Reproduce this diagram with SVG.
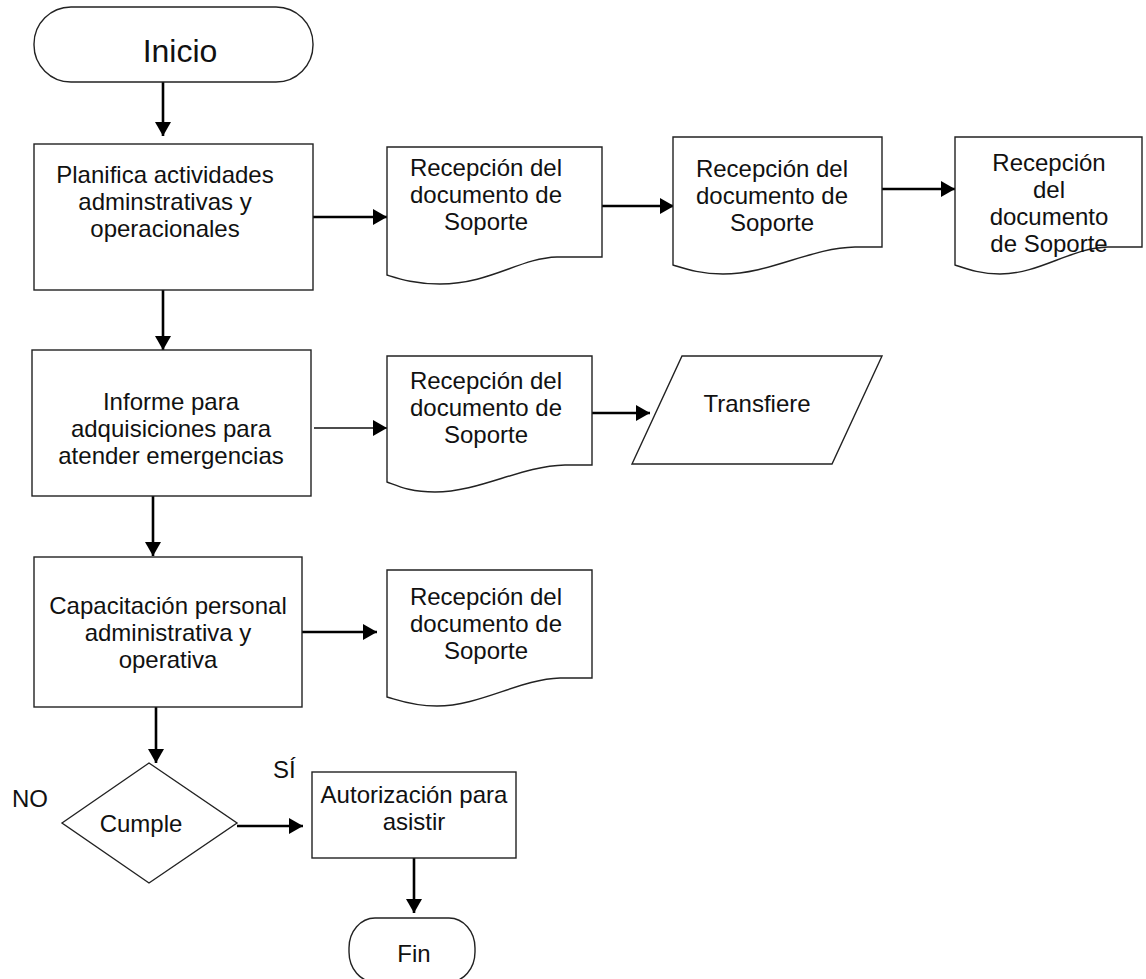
<svg xmlns="http://www.w3.org/2000/svg" width="1146" height="979" viewBox="0 0 1146 979">
<style>
.s{fill:#fff;stroke:#222;stroke-width:1.4}
.t{font-family:"Liberation Sans",Arial,sans-serif;font-size:24px;fill:#111;text-anchor:middle}
.l{font-family:"Liberation Sans",Arial,sans-serif;font-size:24px;fill:#111}
.c{fill:none;stroke:#000;stroke-width:2.6}
.c2{fill:none;stroke:#111;stroke-width:1.6}
</style>
<defs>
<marker id="ah" markerUnits="userSpaceOnUse" viewBox="0 0 14 16" refX="14" refY="8" markerWidth="14" markerHeight="16" orient="auto">
<path d="M0,0 L14,8 L0,16 Z" fill="#000"/>
</marker>
</defs>
<rect width="1146" height="979" fill="#fff"/>
<g id="connectors">
<line class="c" x1="163" y1="82" x2="163" y2="136" marker-end="url(#ah)"/>
<line class="c" x1="313" y1="217" x2="387" y2="217" marker-end="url(#ah)"/>
<line class="c" x1="602" y1="206" x2="674" y2="206" marker-end="url(#ah)"/>
<line class="c" x1="882" y1="189" x2="955" y2="189" marker-end="url(#ah)"/>
<line class="c" x1="163" y1="290" x2="163" y2="350" marker-end="url(#ah)"/>
<line class="c2" x1="314" y1="428" x2="387" y2="428" marker-end="url(#ah)"/>
<line class="c" x1="592" y1="413" x2="650" y2="413" marker-end="url(#ah)"/>
<line class="c" x1="153" y1="496" x2="153" y2="556" marker-end="url(#ah)"/>
<line class="c" x1="302" y1="632" x2="377" y2="632" marker-end="url(#ah)"/>
<line class="c" x1="156" y1="707" x2="156" y2="763" marker-end="url(#ah)"/>
<line class="c" x1="237" y1="826" x2="303" y2="826" marker-end="url(#ah)"/>
<line class="c" x1="414" y1="858" x2="414" y2="913" marker-end="url(#ah)"/>
</g>
<g id="inicio">
<rect class="s" x="34" y="7" width="279" height="75" rx="37" ry="37"/>
<text class="t" x="180" y="62" style="font-size:32px">Inicio</text>
</g>
<g id="planifica">
<rect class="s" x="34" y="144" width="279" height="146"/>
<text class="t" x="165" y="183">Planifica actividades</text>
<text class="t" x="165" y="210">adminstrativas y</text>
<text class="t" x="165" y="237">operacionales</text>
</g>
<g id="doc1">
<path class="s" d="M387,147 H602 V257 H557 C520,258 490,284 440,284 C415,284 400,279 387,275 Z"/>
<text class="t" x="486" y="176">Recepción del</text>
<text class="t" x="486" y="203">documento de</text>
<text class="t" x="486" y="230">Soporte</text>
</g>
<g id="doc2">
<path class="s" d="M673,137 H882 V247 H855 C810,248 770,274 723,274 C700,274 686,269 673,265 Z"/>
<text class="t" x="772" y="177">Recepción del</text>
<text class="t" x="772" y="204">documento de</text>
<text class="t" x="772" y="231">Soporte</text>
</g>
<g id="doc3">
<path class="s" d="M955,137 H1142 V247 H1108 C1070,248 1040,274 1000,274 C980,274 967,269 955,265 Z"/>
<text class="t" x="1049" y="171">Recepción</text>
<text class="t" x="1049" y="198">del</text>
<text class="t" x="1049" y="225">documento</text>
<text class="t" x="1049" y="252">de Soporte</text>
</g>
<g id="informe">
<rect class="s" x="32" y="350" width="279" height="146"/>
<text class="t" x="171" y="410">Informe para</text>
<text class="t" x="171" y="437">adquisiciones para</text>
<text class="t" x="171" y="464">atender emergencias</text>
</g>
<g id="doc4">
<path class="s" d="M387,356 H592 V465 H565 C520,466 480,492 435,492 C410,492 398,486 387,482 Z"/>
<text class="t" x="486" y="389">Recepción del</text>
<text class="t" x="486" y="416">documento de</text>
<text class="t" x="486" y="443">Soporte</text>
</g>
<g id="transfiere">
<polygon class="s" points="682,356 882,356 832,464 632,464"/>
<text class="t" x="757" y="412">Transfiere</text>
</g>
<g id="capacitacion">
<rect class="s" x="34" y="557" width="268" height="150"/>
<text class="t" x="168" y="614">Capacitación personal</text>
<text class="t" x="168" y="641">administrativa y</text>
<text class="t" x="168" y="668">operativa</text>
</g>
<g id="doc5">
<path class="s" d="M387,570 H592 V678 H560 C520,679 480,706 437,706 C412,706 398,700 387,697 Z"/>
<text class="t" x="486" y="605">Recepción del</text>
<text class="t" x="486" y="632">documento de</text>
<text class="t" x="486" y="659">Soporte</text>
</g>
<g id="cumple">
<polygon class="s" points="62,823 149,763 237,823 149,883"/>
<text class="t" x="141" y="832">Cumple</text>
</g>
<text class="l" x="12" y="807">NO</text>
<text class="l" x="273" y="778">SÍ</text>
<g id="autorizacion">
<rect class="s" x="312" y="772" width="204" height="86"/>
<text class="t" x="414" y="803">Autorización para</text>
<text class="t" x="414" y="830">asistir</text>
</g>
<g id="fin">
<rect class="s" x="349" y="918" width="126" height="64" rx="26" ry="30"/>
<text class="t" x="414" y="962">Fin</text>
</g>
</svg>
